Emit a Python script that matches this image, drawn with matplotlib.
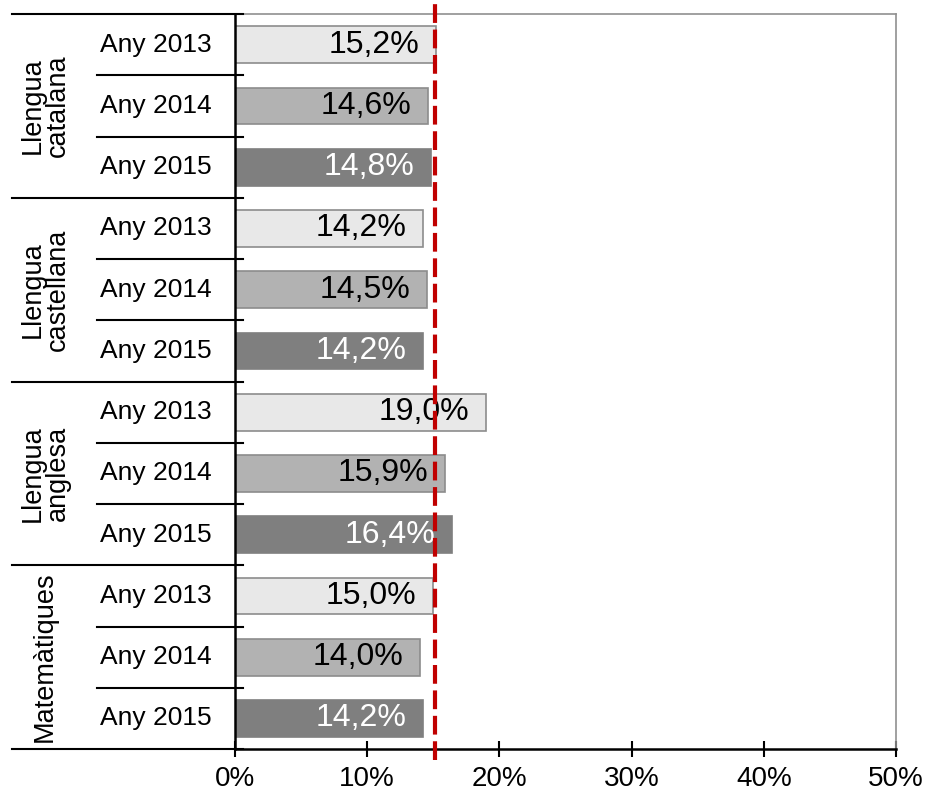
import matplotlib
matplotlib.use("Agg")
import matplotlib.pyplot as plt
import matplotlib.transforms as mtransforms

plt.rcParams['font.family'] = ['Liberation Sans', 'DejaVu Sans']

groups = ["Llengua\ncatalana", "Llengua\ncastellana", "Llengua\nanglesa", "Matemàtiques"]
years = ["Any 2013", "Any 2014", "Any 2015"]
values = [
    [15.2, 14.6, 14.8],
    [14.2, 14.5, 14.2],
    [19.0, 15.9, 16.4],
    [15.0, 14.0, 14.2],
]
reference = 15.1

face_colors = ["#e8e8e8", "#b2b2b2", "#7f7f7f"]
edge_colors = ["#8c8c8c", "#8c8c8c", "#7f7f7f"]
text_colors = ["black", "black", "white"]

fig = plt.figure(figsize=(9.26, 7.96), dpi=100)
ax = fig.add_axes([235 / 926, 1 - 749 / 796, 661 / 926, 735 / 796])

n_rows = len(groups) * len(years)
row = 0
for g, vals in enumerate(values):
    for k, v in enumerate(vals):
        ax.barh(row, v, height=0.6, color=face_colors[k], edgecolor=edge_colors[k],
                linewidth=1.2, zorder=2)
        label = f"{v:.1f}%".replace(".", ",")
        ax.annotate(label, xy=(v, row), xytext=(-12, 0), textcoords="offset points",
                    ha="right", va="center", fontsize=23, color=text_colors[k], zorder=4)
        row += 1

ax.set_xlim(0, 50)
ax.set_ylim(n_rows - 0.5, -0.5)
ax.set_xticks(range(0, 51, 10))
ax.set_xticklabels([f"{t}%" for t in range(0, 51, 10)], fontsize=20)
ax.tick_params(axis="x", direction="inout", length=12, width=1.5, pad=6)
ax.set_yticks([])

for side in ["top", "right"]:
    ax.spines[side].set_color("#909090")
    ax.spines[side].set_linewidth(1.2)
ax.spines["left"].set_color("black")
ax.spines["left"].set_linewidth(1.8)
ax.spines["bottom"].set_color("black")
ax.spines["bottom"].set_linewidth(1.8)

# reference line
ax.axvline(reference, ymin=-0.015, ymax=1.02, color="#c00000", linewidth=3,
           dashes=(4.5, 1.6), clip_on=False, zorder=5)

# category axis lines and labels
trans = mtransforms.blended_transform_factory(ax.transAxes, ax.transData)
outer_x = (12 - 235) / 661
inner_x = (97 - 235) / 661
end_x = 8 / 661
for b in range(n_rows + 1):
    y = b - 0.5
    start = outer_x if b % 3 == 0 else inner_x
    ax.plot([start, end_x], [y, y], color="black", linewidth=1.5,
            transform=trans, clip_on=False, zorder=3)

for i in range(n_rows):
    ax.text((100 - 235) / 661, i, years[i % 3], transform=trans,
            ha="left", va="center", fontsize=19)

for g, name in enumerate(groups):
    ax.text((45 - 235) / 661, g * 3 + 1, name, transform=trans, rotation=90,
            ha="center", va="center", fontsize=19.5, linespacing=0.95)

fig.savefig("out.png", dpi=100)
